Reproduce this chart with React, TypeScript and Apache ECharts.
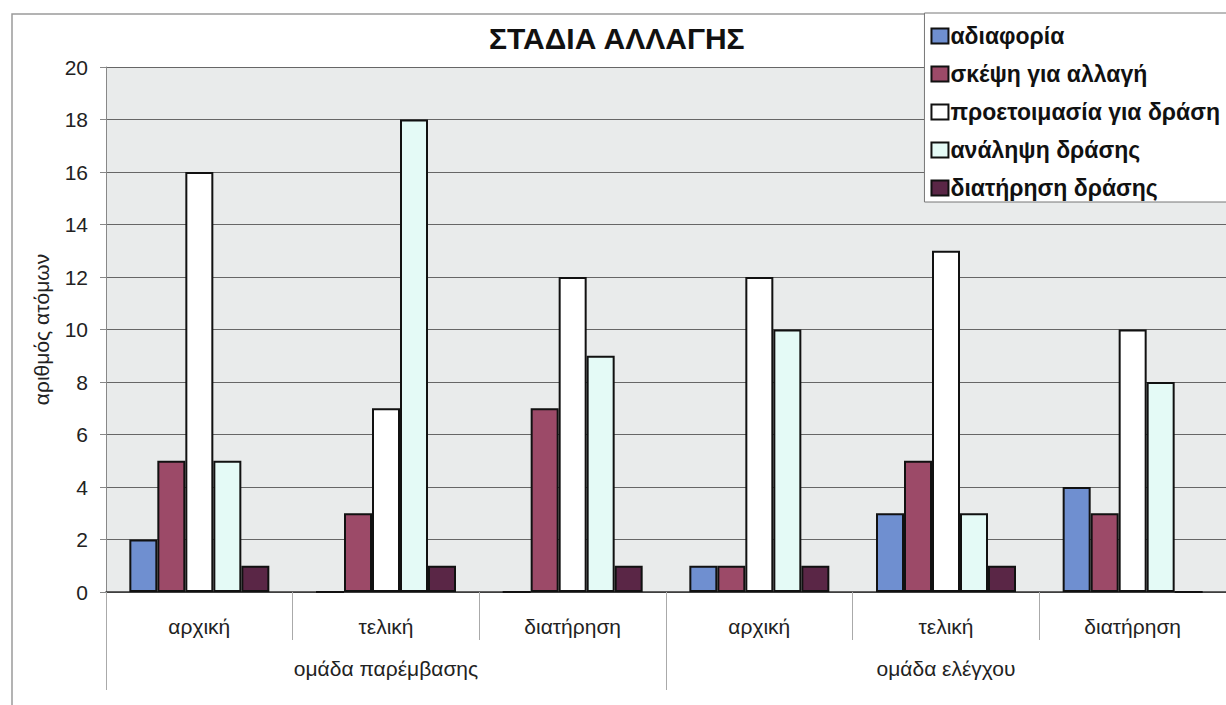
import React, { useEffect, useRef } from "react";
import * as echarts from "echarts";

const stageLabels = ["αρχική", "τελική", "διατήρηση", "αρχική", "τελική", "διατήρηση"];
const groupLabels = ["ομάδα παρέμβασης", "ομάδα ελέγχου"];
const seriesNames = [
  "αδιαφορία",
  "σκέψη για αλλαγή",
  "προετοιμασία για δράση",
  "ανάληψη δράσης",
  "διατήρηση δράσης",
];
const adiaforia = [2, 0, 0, 1, 3, 4];
const skepsi = [5, 3, 7, 1, 5, 3];
const proetoimasia = [16, 7, 12, 12, 13, 10];
const analipsi = [5, 18, 9, 10, 3, 8];
const diatirisi = [1, 1, 1, 1, 1, 0];
const seriesValues = [adiaforia, skepsi, proetoimasia, analipsi, diatirisi];
const seriesColors = ["#6f8fd0", "#9c4a68", "#ffffff", "#e4faf6", "#5a2646"];
const yTicks = [0, 20, 2];

const FONT = "'Liberation Sans', Arial, sans-serif";

export default function App() {
  const ref = useRef<HTMLDivElement>(null);
  useEffect(() => {
    if (!ref.current) return;
    const chart = echarts.init(ref.current, null, { renderer: "svg" });
    chart.setOption({
      animation: false,
      backgroundColor: "#ffffff",
      textStyle: { fontFamily: FONT },
      title: {
        text: "ΣΤΑΔΙΑ ΑΛΛΑΓΗΣ",
        left: 484,
        top: 18,
        textStyle: { fontFamily: FONT, fontSize: 30, fontWeight: "bold", color: "#111" },
      },
      graphic: [
        {
          type: "rect",
          shape: { x: 12, y: 14, width: 1400, height: 900 },
          style: { fill: "none", stroke: "#9a9a9a", lineWidth: 1.5 },
          silent: true,
          z: -1,
        },
      ],
      legend: {
        orient: "vertical",
        right: -4,
        top: 13,
        data: seriesNames,
        backgroundColor: "#ffffff",
        borderColor: "#777",
        borderWidth: 1,
        padding: [11, 10, 2, 6],
        itemWidth: 17,
        itemHeight: 15,
        itemGap: 14,
        icon: "rect",
        textStyle: {
          fontFamily: FONT,
          fontSize: 23,
          lineHeight: 24,
          fontWeight: "bold",
          color: "#111",
          padding: [0, 0, 0, -3],
        },
      },
      grid: {
        left: 106,
        right: 0,
        top: 67,
        bottom: 113,
        show: true,
        backgroundColor: "#e9ebeb",
        borderWidth: 0,
      },
      xAxis: [
        {
          type: "category",
          position: "bottom",
          data: stageLabels.map((_, i) => String(i)),
          axisLine: { show: true, lineStyle: { color: "#333", width: 1.5 } },
          axisTick: { show: true, interval: 0, length: 48, lineStyle: { color: "#aaa" } },
          axisLabel: {
            interval: 0,
            margin: 24,
            fontSize: 21,
            color: "#222",
            fontFamily: FONT,
            formatter: (v: string) => stageLabels[Number(v)],
          },
        },
        {
          type: "category",
          position: "bottom",
          offset: 0,
          data: groupLabels,
          axisLine: { show: false },
          axisTick: { show: true, interval: 0, length: 98, lineStyle: { color: "#aaa" } },
          axisLabel: { interval: 0, margin: 66, fontSize: 21, color: "#222", fontFamily: FONT },
        },
      ],
      yAxis: {
        type: "value",
        min: yTicks[0],
        max: yTicks[1],
        interval: yTicks[2],
        name: "αριθμός ατόμων",
        nameLocation: "middle",
        nameGap: 54,
        nameTextStyle: { fontSize: 21, color: "#222", fontFamily: FONT },
        axisLine: { show: true, lineStyle: { color: "#888" } },
        axisTick: { show: true, length: 6, lineStyle: { color: "#888" } },
        axisLabel: { fontSize: 21, color: "#222", margin: 18, fontFamily: FONT },
        splitLine: { show: true, lineStyle: { color: "#666", width: 1 } },
      },
      series: seriesNames.map((name, i) => ({
        name,
        type: "bar",
        xAxisIndex: 0,
        data: seriesValues[i],
        barWidth: 28,
        barGap: "0%",
        itemStyle: { color: seriesColors[i], borderColor: "#111", borderWidth: 2 },
      })),
    });
    return () => chart.dispose();
  }, []);
  return (
    <div
      ref={ref}
      style={{ position: "fixed", left: 0, top: 0, width: 1226, height: 705 }}
    />
  );
}
